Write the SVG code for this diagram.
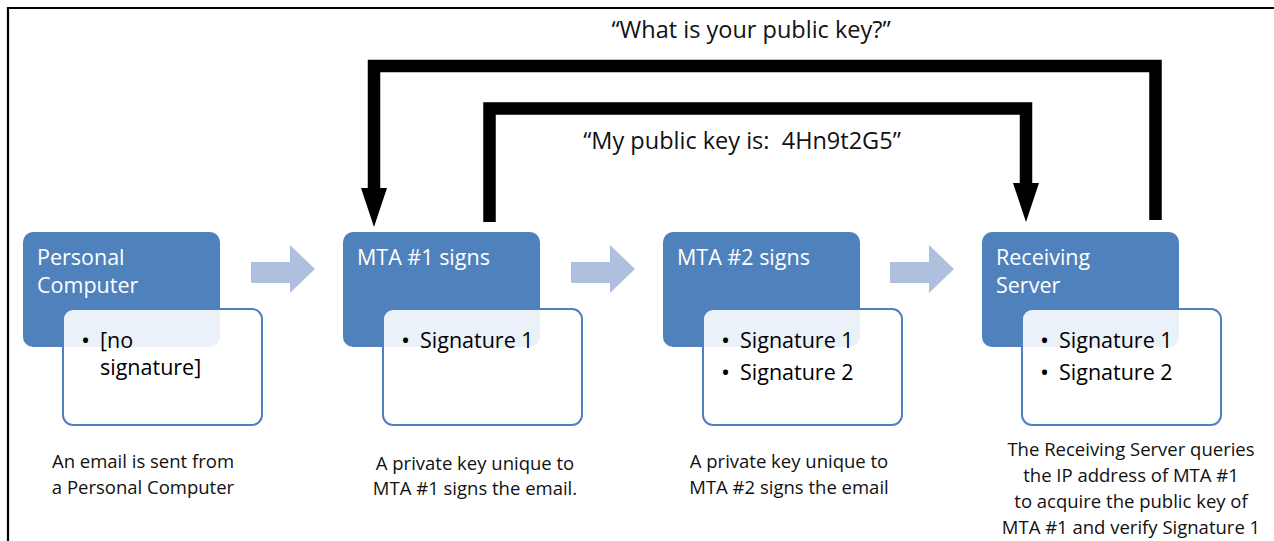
<svg xmlns="http://www.w3.org/2000/svg" width="1274" height="541" viewBox="0 0 1274 541">
<style>
.head{fill:#4f81bd;}
.card{fill:#ffffff;fill-opacity:0.89;stroke:#4f81bd;stroke-width:2;}
.ht{font-family:"Open Sans","Noto Sans",sans-serif;font-size:21.5px;fill:#ffffff;}
.bt{font-family:"Open Sans","Noto Sans",sans-serif;font-size:21.5px;fill:#000000;}
.bl{font-family:"Open Sans","Noto Sans",sans-serif;font-size:24px;fill:#000000;}
.cap{font-family:"Open Sans","Noto Sans",sans-serif;font-size:18.5px;fill:#111111;text-anchor:middle;}
.q{font-family:"Open Sans","Noto Sans",sans-serif;font-size:23.5px;fill:#111111;text-anchor:middle;}
.flow{fill:#afc0de;}
.conn{fill:none;stroke:#000000;stroke-width:12.5;stroke-linejoin:miter;stroke-linecap:butt;}
</style>
<defs>
<marker id="ah" markerUnits="userSpaceOnUse" markerWidth="40" markerHeight="28" viewBox="0 0 40 28" refX="0" refY="14" orient="auto">
<path d="M0,1 L39,14 L0,27 z" fill="#000000"/>
</marker>
</defs>
<rect x="0" y="0" width="1274" height="541" fill="#ffffff"/>
<path d="M8,541 V8 H1274" fill="none" stroke="#000000" stroke-width="2.2"/>

<g id="connectors">
<path class="conn" d="M1155.5,220 V66 H374 V188" marker-end="url(#ah)"/>
<path class="conn" d="M489.5,222 V108.5 H1026 V183" marker-end="url(#ah)"/>
<path class="flow" d="M251,262 H290 V245 L315,269 L290,293 V283 H251 Z"/>
<path class="flow" d="M571,262 H610 V245 L635,269 L610,293 V283 H571 Z"/>
<path class="flow" d="M890,262 H929 V245 L954,269 L929,293 V283 H890 Z"/>
</g>

<g id="labels">
<text class="q" x="751" y="38">“What is your public key?”</text>
<text class="q" x="742" y="149">“My public key is:&#160; 4Hn9t2G5”</text>
</g>

<g id="node-pc">
<rect class="head" x="23" y="232" width="197" height="115" rx="10"/>
<text class="ht" x="37" y="265">Personal</text>
<text class="ht" x="37" y="293">Computer</text>
<rect class="card" x="63" y="309" width="199" height="116" rx="10"/>
<text class="bl" x="81" y="349">•</text>
<text class="bt" x="100" y="348">[no</text>
<text class="bt" x="100" y="375">signature]</text>
<text class="cap" x="143" y="468">An email is sent from</text>
<text class="cap" x="143" y="494">a Personal Computer</text>
</g>

<g id="node-mta1">
<rect class="head" x="343" y="232" width="197" height="115" rx="10"/>
<text class="ht" x="357" y="265">MTA #1 signs</text>
<rect class="card" x="383" y="309" width="199" height="116" rx="10"/>
<text class="bl" x="401" y="349">•</text>
<text class="bt" x="420" y="348">Signature 1</text>
<text class="cap" x="475" y="470">A private key unique to</text>
<text class="cap" x="475" y="495">MTA #1 signs the email.</text>
</g>

<g id="node-mta2">
<rect class="head" x="663" y="232" width="197" height="115" rx="10"/>
<text class="ht" x="677" y="265">MTA #2 signs</text>
<rect class="card" x="703" y="309" width="199" height="116" rx="10"/>
<text class="bl" x="721" y="349">•</text>
<text class="bt" x="740" y="348">Signature 1</text>
<text class="bl" x="721" y="381">•</text>
<text class="bt" x="740" y="380">Signature 2</text>
<text class="cap" x="789" y="468">A private key unique to</text>
<text class="cap" x="789" y="494">MTA #2 signs the email</text>
</g>

<g id="node-rs">
<rect class="head" x="982" y="232" width="197" height="115" rx="10"/>
<text class="ht" x="996" y="265">Receiving</text>
<text class="ht" x="996" y="293">Server</text>
<rect class="card" x="1022" y="309" width="199" height="116" rx="10"/>
<text class="bl" x="1040" y="349">•</text>
<text class="bt" x="1059" y="348">Signature 1</text>
<text class="bl" x="1040" y="381">•</text>
<text class="bt" x="1059" y="380">Signature 2</text>
<text class="cap" x="1131" y="456">The Receiving Server queries</text>
<text class="cap" x="1131" y="482">the IP address of MTA #1</text>
<text class="cap" x="1131" y="508">to acquire the public key of</text>
<text class="cap" x="1131" y="534">MTA #1 and verify Signature 1</text>
</g>
</svg>
